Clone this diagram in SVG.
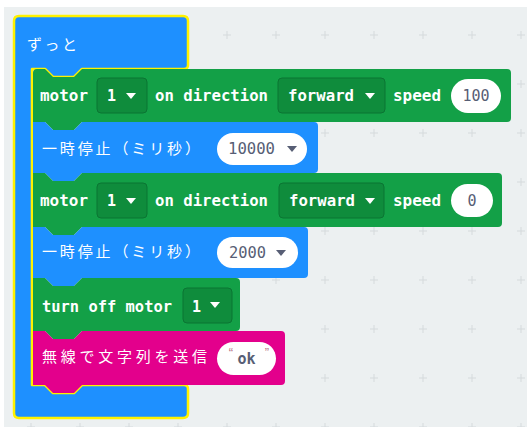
<svg xmlns="http://www.w3.org/2000/svg" width="527" height="427" viewBox="0 0 527 427">
<defs>
<style>
.mono{font-family:"DejaVu Sans Mono","Liberation Mono",monospace;font-size:15px;font-weight:bold;fill:#fff}
.jp{font-family:"Noto Sans CJK JP","Noto Sans",sans-serif;font-size:15px;fill:#fff}
.val{font-family:"DejaVu Sans Mono","Liberation Mono",monospace;font-size:15px;fill:#575e75}
.dd{fill:#0f8c3c;stroke:#0b7533;stroke-width:1}
.oval{fill:#fff}
.tw{fill:#fff}
.td{fill:#575e75}
.green{fill:#13a047}
.blue{fill:#1e90ff}
.pink{fill:#e3008c}
.grid{stroke:#d5dadc;stroke-width:1}
.q{font-family:"Liberation Sans",sans-serif;font-size:13px;fill:#b77888}
</style>
<path id="plus" d="M-4,0H4M0,-4V4"/>
</defs>
<rect width="527" height="427" fill="#fff"/>
<rect x="4" y="7" width="523" height="420" fill="#ecf0f1"/>
<g id="grid" class="grid">
<use href="#plus" x="227" y="35"/><use href="#plus" x="276" y="35"/><use href="#plus" x="325" y="35"/><use href="#plus" x="374" y="35"/><use href="#plus" x="423" y="35"/><use href="#plus" x="472" y="35"/><use href="#plus" x="521" y="35"/>
<use href="#plus" x="521" y="84"/>
<use href="#plus" x="325" y="133"/><use href="#plus" x="374" y="133"/><use href="#plus" x="423" y="133"/><use href="#plus" x="472" y="133"/><use href="#plus" x="521" y="133"/>
<use href="#plus" x="521" y="182"/>
<use href="#plus" x="325" y="231"/><use href="#plus" x="374" y="231"/><use href="#plus" x="423" y="231"/><use href="#plus" x="472" y="231"/><use href="#plus" x="521" y="231"/>
<use href="#plus" x="276" y="280"/><use href="#plus" x="325" y="280"/><use href="#plus" x="374" y="280"/><use href="#plus" x="423" y="280"/><use href="#plus" x="472" y="280"/><use href="#plus" x="521" y="280"/>
<use href="#plus" x="325" y="329"/><use href="#plus" x="374" y="329"/><use href="#plus" x="423" y="329"/><use href="#plus" x="472" y="329"/><use href="#plus" x="521" y="329"/>
<use href="#plus" x="227" y="378"/><use href="#plus" x="276" y="378"/><use href="#plus" x="325" y="378"/><use href="#plus" x="374" y="378"/><use href="#plus" x="423" y="378"/><use href="#plus" x="472" y="378"/><use href="#plus" x="521" y="378"/>
<use href="#plus" x="31" y="427"/><use href="#plus" x="80" y="427"/><use href="#plus" x="129" y="427"/><use href="#plus" x="178" y="427"/><use href="#plus" x="227" y="427"/><use href="#plus" x="276" y="427"/><use href="#plus" x="325" y="427"/><use href="#plus" x="374" y="427"/><use href="#plus" x="423" y="427"/><use href="#plus" x="472" y="427"/><use href="#plus" x="521" y="427"/>
</g>
<g id="forever">
<path class="blue" stroke="#fff200" stroke-width="2.5" stroke-linejoin="round" d="M14,21 Q14,16 19,16 H183 Q188,16 188,21 V65 Q188,69 184,69 H82 L74,77 H53 L45,69 H32 V385 H45 L53,393 H74 L82,385 H184 Q188,385 188,389 V413 Q188,418 183,418 H19 Q14,418 14,413 Z"/>
<text class="jp" x="27" y="50" textLength="50" lengthAdjust="spacing">ずっと</text>
</g>
<g id="connectors"/>
<g id="motor1">
<path class="green" d="M33,73 Q33,69 37,69 H45 L53,77 H74 L82,69 H507 Q511,69 511,73 V118 Q511,122 507,122 H82 L74,130 H53 L45,122 H33 Z"/>
<text class="mono" x="40" y="101" textLength="48" lengthAdjust="spacingAndGlyphs">motor</text>
<rect class="dd" x="97" y="78" width="50" height="35" rx="4"/>
<text class="mono" x="107" y="101">1</text>
<path class="tw" d="M126,93 H136 L131,99 Z"/>
<text class="mono" x="155" y="101" textLength="113" lengthAdjust="spacingAndGlyphs">on direction</text>
<rect class="dd" x="278" y="78" width="107" height="35" rx="4"/>
<text class="mono" x="288" y="101" textLength="66" lengthAdjust="spacingAndGlyphs">forward</text>
<path class="tw" d="M365,93 H375 L370,99 Z"/>
<text class="mono" x="393" y="101" textLength="48" lengthAdjust="spacingAndGlyphs">speed</text>
<rect class="oval" x="451" y="79" width="50" height="34" rx="17"/>
<text class="val" x="476" y="101" text-anchor="middle">100</text>
</g>
<g id="pause1">
<path class="blue" d="M33,122 H45 L53,130 H74 L82,122 H314 Q318,122 318,126 V169 Q318,173 314,173 H82 L74,181 H53 L45,173 H33 Z"/>
<text class="jp" x="42" y="154" textLength="158" lengthAdjust="spacing">一時停止（ミリ秒）</text>
<rect class="oval" x="217" y="133" width="90" height="32" rx="16"/>
<text class="val" x="228" y="154" textLength="47" lengthAdjust="spacingAndGlyphs">10000</text>
<path class="td" d="M287,146 H297 L292,152 Z"/>
</g>
<g id="motor2">
<path class="green" d="M33,173 H45 L53,181 H74 L82,173 H498 Q502,173 502,177 V223 Q502,227 498,227 H82 L74,235 H53 L45,227 H33 Z"/>
<text class="mono" x="40" y="206" textLength="48" lengthAdjust="spacingAndGlyphs">motor</text>
<rect class="dd" x="97" y="183" width="50" height="35" rx="4"/>
<text class="mono" x="107" y="206">1</text>
<path class="tw" d="M126,198 H136 L131,204 Z"/>
<text class="mono" x="155" y="206" textLength="113" lengthAdjust="spacingAndGlyphs">on direction</text>
<rect class="dd" x="279" y="183" width="105" height="35" rx="4"/>
<text class="mono" x="289" y="206" textLength="66" lengthAdjust="spacingAndGlyphs">forward</text>
<path class="tw" d="M365,198 H375 L370,204 Z"/>
<text class="mono" x="393" y="206" textLength="48" lengthAdjust="spacingAndGlyphs">speed</text>
<rect class="oval" x="451" y="184" width="42" height="33" rx="16.5"/>
<text class="val" x="472" y="206" text-anchor="middle">0</text>
</g>
<g id="pause2">
<path class="blue" d="M33,227 H45 L53,235 H74 L82,227 H304 Q308,227 308,231 V274 Q308,278 304,278 H82 L74,286 H53 L45,278 H33 Z"/>
<text class="jp" x="42" y="257" textLength="158" lengthAdjust="spacing">一時停止（ミリ秒）</text>
<rect class="oval" x="217" y="237" width="81" height="31" rx="15.5"/>
<text class="val" x="229" y="258" textLength="37" lengthAdjust="spacingAndGlyphs">2000</text>
<path class="td" d="M276,250 H286 L281,256 Z"/>
</g>
<g id="turnoff">
<path class="green" d="M33,278 H45 L53,286 H74 L82,278 H236 Q240,278 240,282 V327 Q240,331 236,331 H82 L74,339 H53 L45,331 H33 Z"/>
<text class="mono" x="42" y="312" textLength="130" lengthAdjust="spacingAndGlyphs">turn off motor</text>
<rect class="dd" x="183" y="288" width="49" height="35" rx="4"/>
<text class="mono" x="192" y="312">1</text>
<path class="tw" d="M210,302 H220 L215,308 Z"/>
</g>
<g id="radio">
<path class="pink" d="M33,331 H45 L53,339 H74 L82,331 H281 Q285,331 285,335 V381 Q285,385 281,385 H82 L74,393 H53 L45,385 H33 Z"/>
<text class="jp" x="42" y="362" textLength="165" lengthAdjust="spacing">無線で文字列を送信</text>
<rect class="oval" x="217" y="342" width="59" height="33" rx="16.5"/>
<text class="val" x="246.5" y="364" text-anchor="middle" font-weight="bold">ok</text>
<text class="q" x="231" y="357" text-anchor="middle">“</text>
<text class="q" x="267" y="357" text-anchor="middle">”</text>
</g>
</svg>
